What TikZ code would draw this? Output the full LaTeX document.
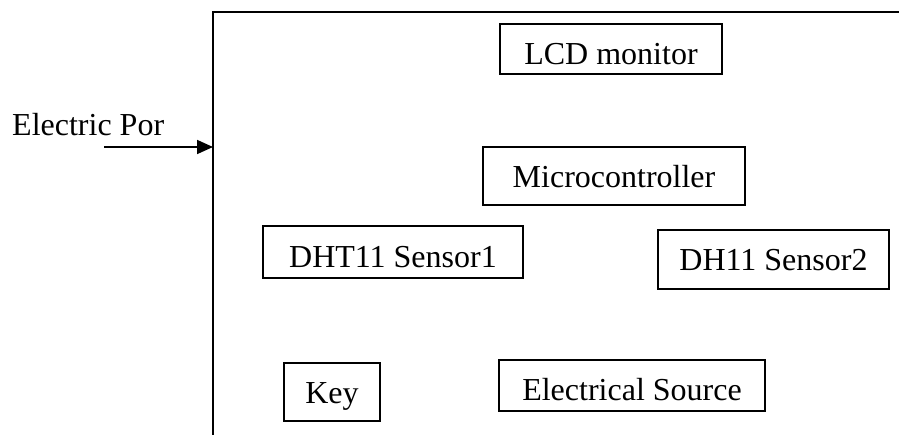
\documentclass[tikz,border=0pt]{standalone}
\usepackage{fontspec}
\setmainfont{Liberation Serif}
\usetikzlibrary{arrows.meta}
\begin{document}
\begin{tikzpicture}[x=1pt,y=-1pt,
  blk/.style={draw=black,line width=1.3pt,inner sep=0pt,align=center,
    text depth=0pt,text height=#1,
    font=\fontsize{32}{38}\selectfont},
  blk/.default=26pt,
  lbl/.style={inner sep=0pt,font=\fontsize{32}{38}\selectfont},
  frame/.style={line width=1.7pt,line cap=rect},
  feed/.style={line width=1.7pt,-{Triangle[length=16pt,width=14pt]}}]
\useasboundingbox (0,0) rectangle (899,434);
% outer frame
\coordinate (fbot) at (213,434);
\coordinate (fcorner) at (213,12);
\coordinate (fright) at (899,12);
\coordinate (portin) at (213,147);
\coordinate (feedstart) at (104,147);
\draw[frame] (fbot) -- (fcorner) -- (fright);
% blocks
\node[blk=30pt,minimum width=222pt,minimum height=50pt] (lcd) at (611,49) {LCD monitor};
\node[blk=22pt,minimum width=262pt,minimum height=58pt] (mcu) at (614,176) {Microcontroller};
\node[blk=30pt,minimum width=260pt,minimum height=52pt] (s1) at (393,252) {DHT11 Sensor1};
\node[blk=21pt,minimum width=231pt,minimum height=59pt] (s2) at (773.5,259.5) {DH11 Sensor2};
\node[blk=22pt,minimum width=96pt,minimum height=58pt] (key) at (332,392) {Key};
\node[blk=29pt,minimum width=266pt,minimum height=51pt] (src) at (632,385.5) {Electrical Source};
% input
\node[lbl,anchor=base west] (port) at (12,135) {Electric Por};
\draw[feed] (feedstart) -- (portin);
\end{tikzpicture}
\end{document}
